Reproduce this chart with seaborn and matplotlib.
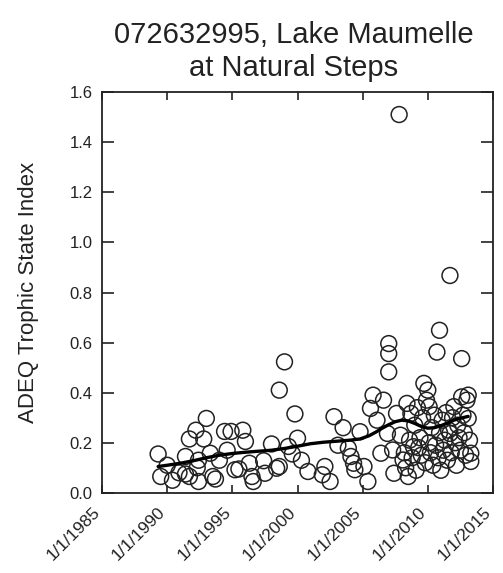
import matplotlib
matplotlib.use('Agg')
import matplotlib.pyplot as plt
import matplotlib.transforms as mtransforms
import pandas as pd
import seaborn as sns

# sample dates (decimal years) and ADEQ trophic state index values
sample_year = [
    1989.3, 1989.5, 1990.0, 1990.4, 1990.9, 1991.4, 1991.4, 1991.7, 1991.7, 1992.2,
    1992.3, 1992.4, 1992.4, 1992.8, 1993.0, 1993.3, 1993.5, 1993.7, 1994.0, 1994.4,
    1994.6, 1994.9, 1995.2, 1995.5, 1995.8, 1996.0, 1996.3, 1996.5, 1996.6, 1997.4,
    1997.5, 1998.0, 1998.4, 1998.6, 1998.6, 1999.0, 1999.3, 1999.6, 1999.8, 2000.0,
    2000.3, 2000.8, 2001.9, 2002.1, 2002.5, 2002.8, 2003.1, 2003.5, 2003.9, 2004.1,
    2004.3, 2004.4, 2004.8, 2005.1, 2005.4, 2005.6, 2005.8, 2006.1, 2006.4, 2006.6,
    2006.9, 2007.0, 2007.0, 2007.0, 2007.3, 2007.4, 2007.6, 2007.8, 2008.1, 2008.4,
    2008.5, 2008.7, 2008.9, 2007.9, 2008.2, 2008.3, 2008.6, 2008.8, 2009.0, 2009.1,
    2009.2, 2009.3, 2009.4, 2009.5, 2009.6, 2009.7, 2009.8, 2009.9, 2010.0, 2010.1,
    2010.1, 2010.2, 2010.3, 2010.4, 2010.5, 2010.6, 2010.7, 2010.8, 2010.9, 2010.9,
    2011.0, 2011.1, 2011.2, 2011.3, 2011.4, 2011.5, 2011.6, 2011.7, 2011.7, 2011.8,
    2011.9, 2012.0, 2012.1, 2012.2, 2012.3, 2012.4, 2012.5, 2012.6, 2012.6, 2012.7,
    2012.8, 2012.9, 2013.0, 2013.1, 2013.2, 2013.3, 2013.3, 2013.1,
]
tsi_value = [
    0.155, 0.065, 0.110, 0.050, 0.080, 0.145, 0.075, 0.215, 0.065, 0.250,
    0.100, 0.130, 0.045, 0.215, 0.297, 0.158, 0.065, 0.055, 0.130, 0.245,
    0.170, 0.245, 0.092, 0.095, 0.250, 0.205, 0.118, 0.065, 0.045, 0.128,
    0.078, 0.195, 0.098, 0.410, 0.105, 0.523, 0.185, 0.155, 0.315, 0.218,
    0.130, 0.085, 0.072, 0.105, 0.045, 0.304, 0.190, 0.260, 0.178, 0.145,
    0.118, 0.092, 0.244, 0.105, 0.045, 0.337, 0.390, 0.290, 0.158, 0.370,
    0.237, 0.596, 0.556, 0.483, 0.171, 0.078, 0.317, 1.511, 0.131, 0.357,
    0.065, 0.317, 0.184, 0.230, 0.160, 0.100, 0.210, 0.140, 0.270, 0.090,
    0.340, 0.180, 0.220, 0.150, 0.300, 0.437, 0.120, 0.370, 0.410, 0.344,
    0.200, 0.160, 0.260, 0.110, 0.310, 0.190, 0.562, 0.140, 0.649, 0.240,
    0.090, 0.290, 0.170, 0.210, 0.320, 0.130, 0.250, 0.868, 0.237, 0.160,
    0.300, 0.344, 0.200, 0.110, 0.270, 0.220, 0.170, 0.536, 0.383, 0.310,
    0.240, 0.150, 0.370, 0.297, 0.210, 0.158, 0.125, 0.390,
]

# smoothed trend line
trend_year = [1989.3, 1990.0, 1991.0, 1992.0, 1993.0, 1994.0, 1995.0, 1996.0, 1997.0,
              1998.0, 1999.0, 2000.0, 2001.0, 2002.0, 2003.0, 2004.0, 2004.8, 2005.5,
              2006.0, 2006.5, 2007.0, 2007.5, 2008.0, 2008.5, 2009.0, 2009.5, 2010.0,
              2010.5, 2011.0, 2011.5, 2012.0, 2012.5, 2013.1]
trend_value = [0.105, 0.110, 0.118, 0.128, 0.140, 0.150, 0.157, 0.162, 0.166,
               0.170, 0.177, 0.186, 0.196, 0.202, 0.206, 0.210, 0.215, 0.228,
               0.242, 0.258, 0.272, 0.284, 0.290, 0.287, 0.277, 0.265, 0.258,
               0.260, 0.268, 0.278, 0.290, 0.298, 0.305]

tick_years = [1985, 1990, 1995, 2000, 2005, 2010, 2015]
tick_labels = ['1/1/%d' % y for y in tick_years]

sns.set_style('ticks')
plt.rcParams['font.family'] = ['Liberation Sans', 'DejaVu Sans']
ink = '#222222'

samples = pd.DataFrame({'year': sample_year, 'tsi': tsi_value})
trend = pd.DataFrame({'year': trend_year, 'tsi': trend_value})

fig = plt.figure(figsize=(5.03, 5.73), dpi=100)
ax = fig.add_axes([0.203, 0.140, 0.777, 0.699])

sns.scatterplot(x='year', y='tsi', data=samples, ax=ax, marker='o', s=130,
                facecolor='none', edgecolor=ink, linewidth=1.1, zorder=2)
sns.lineplot(x='year', y='tsi', data=trend, ax=ax, color='black', linewidth=2.4, zorder=3)

# the original axis stops a little short of 2015
ax.set_xlim(1985, 2014.35)
ax.set_ylim(0, 1.6)
ax.set_xticks(tick_years)
ax.set_xticklabels(tick_labels)
ax.set_yticks([0.0, 0.2, 0.4, 0.6, 0.8, 1.0, 1.2, 1.4, 1.6])
ax.set_yticklabels(['%.1f' % v for v in ax.get_yticks()])

ax.tick_params(axis='both', direction='in', top=True, right=True,
               width=1.2, color=ink, labelcolor=ink)
ax.tick_params(axis='y', labelsize=12, pad=7, length=8.5)
ax.tick_params(axis='x', labelsize=12.5, pad=0, length=6)
for spine in ax.spines.values():
    spine.set_color(ink)
    spine.set_linewidth(1.3)

# rotated date labels, shifted down-left like the original
shift = mtransforms.ScaledTranslation(-3 / 72, -12 / 72, fig.dpi_scale_trans)
for lab in ax.get_xticklabels():
    lab.set_rotation(45)
    lab.set_ha('right')
    lab.set_va('center')
    lab.set_rotation_mode('anchor')
    lab.set_transform(lab.get_transform() + shift)
lo, hi = ax.get_xlim()
for yr, txt in zip(tick_years, tick_labels):
    if yr > hi:
        ax.text(yr, 0, txt, transform=ax.get_xaxis_transform() + shift, rotation=45,
                ha='right', va='center', rotation_mode='anchor', fontsize=12.5,
                color=ink, clip_on=False)

ax.set_xlabel('')
ax.set_ylabel('ADEQ Trophic State Index', fontsize=16, color=ink, labelpad=22)
ax.set_title('072632995, Lake Maumelle\nat Natural Steps', fontsize=21, color=ink,
             pad=12, linespacing=1.22, x=0.49)

fig.savefig('out.png', dpi=100, facecolor='white')
